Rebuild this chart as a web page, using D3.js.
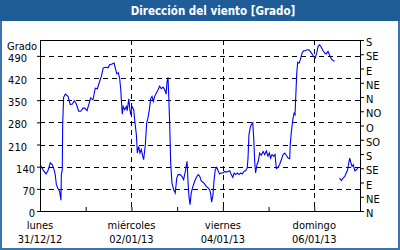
<!DOCTYPE html>
<html>
<head>
<meta charset="utf-8">
<script src="https://cdn.jsdelivr.net/npm/d3@7"></script>
<style>
  body { margin: 0; background: #fff; }
  svg { display: block; }
  text { font-family: "DejaVu Sans Condensed", "DejaVu Sans", sans-serif; }
</style>
</head>
<body>
<div id="chart"></div>
<script>
// hours since 31/12/12 00:00 and wind direction (degrees, unwrapped); null = gap
const hours = [0.4, 1.6, 3.2, 4.2, 5.4, 6.5, 7.4, 8.0, 8.6, 9.5, 10.3, 11.0, 11.2, 11.7, 11.9, 12.4, 13.3, 14.7, 15.9, 17.0,
  18.0, 19.1, 20.3, 21.4, 22.6, 23.5, 24.7, 25.6, 26.6, 27.8, 29.0, 30.1, 31.3, 32.2, 33.2, 34.7, 35.7, 36.6, 37.8, 38.9,
  39.5, 40.3, 41.1, 41.8, 42.4, 42.7, 43.2, 43.7, 44.5, 45.3, 45.8, 46.6, 47.1, 47.6, 48.3, 49.2, 49.7, 50.6, 51.1, 51.8,
  52.5, 53.2, 53.9, 54.4, 55.3, 56.0, 56.7, 57.4, 58.1, 58.8, 59.5, 60.2, 61.1, 62.0, 62.8, 63.7, 64.6, 65.5, 66.2, 66.7,
  67.2, 67.6, 68.1, 68.6, 69.3, 70.2, 71.0, 71.8, 72.5, 73.5, 74.6, 75.4, 76.3, 77.2, 77.7, 78.2, 78.8, 79.4, 80.3, 81.2,
  82.1, 83.0, 83.8, 84.7, 85.6, 86.5, 87.3, 88.2, 89.1, 89.6, 90.1, 90.8, 91.4, 92.0, 92.8, 93.5, 94.3, 95.2, 96.1, 97.0,
  97.8, 98.7, 99.6, 100.4, 101.2, 101.9, 102.7, 103.6, 104.5, 105.4, 106.2, 107.1, 108.0, 108.8, 109.2, 109.7, 110.4, 110.9, 111.7, 112.2,
  112.7, 113.2, 113.9, 114.6, 115.3, 116.2, 117.1, 118.0, 118.8, 119.7, 120.4, 121.1, 121.8, 122.7, 123.4, 124.1, 125.0, 125.8, 126.7, 127.6,
  128.5, 129.3, 130.2, 131.1, 131.4, 131.9, 132.5, 132.8, 133.4, 133.9, 134.2, 134.8, 135.3, 136.0, 136.7, 137.6, 138.4, 139.3, 140.2, 141.1,
  141.9, 142.8, 143.7, 144.5, 145.3, 146.0, 146.8, 147.7, 148.6, 149.5, 150.3, 151.2, 152.1, 152.9, 153.8, 154.7, 156.0, 157.3, 158.2, 159.1,
  160.0, 160.8, 161.5, 162.1, 162.6, 163.1, 163.8, 164.5, 165.3, 166.1, 166.9]
const grados = [143, 130, 117, 128, 152, 146, 130, 115, 83, 70, 62, 34, 115, 130, 272, 359, 369, 362, 336, 338,
  348, 338, 315, 315, 325, 325, 317, 336, 357, 351, 388, 386, 409, 425, 452, 454, 452, 462, 464, 467,
  452, 433, 437, 420, 383, 351, 306, 330, 320, 330, 317, 354, 325, 304, 330, 320, 288, 241, 183, 204,
  183, 194, 173, 162, 209, 278, 294, 320, 355, 362, 346, 362, 373, 383, 394, 386, 391, 383, 369, 409,
  422, 362, 272, 152, 88, 67, 57, 104, 115, 115, 109, 99, 125, 157, 94, 46, 20, 57, 78, 94,
  106, 115, 110, 94, 91, 85, 78, 73, 67, 54, 28, 51, 99, 130, 138, 127, 117, 120, 120, 125,
  123, 125, 127, 115, 106, 120, 115, 120, 115, 120, 117, 125, 128, 136, 167, 241, 264, 272, 278, 231,
  157, 120, 146, 157, 183, 176, 188, 178, 190, 173, 183, 167, 178, 173, 178, 134, 138, 147, 162, 178,
  183, 176, 167, 165, 212, 246, 278, 291, 309, 304, 351, 436, 470, 467, 478, 499, 506, 506, 509, 509,
  504, 496, 488, 483, 499, 520, 525, 517, 506, 499, 496, 504, 492, 481, 475, 473, null, 104, 96, 104,
  109, 120, 130, 152, 167, 155, 141, 146, 127, 130, 136]

const leftTicks = [0, 70, 140, 210, 280, 350, 420, 490]
const rightTicks = [0, 45, 90, 135, 180, 225, 270, 315, 360, 405, 450, 495, 540]
const rightLabels = ["N", "NE", "E", "SE", "S", "SO", "O", "NO", "N", "NE", "E", "SE", "S"]
const dayNames = ["lunes", "miércoles", "viernes", "domingo"]
const dayDates = ["31/12/12", "02/01/13", "04/01/13", "06/01/13"]

const W = 400, H = 250
const margin = {top: 40, left: 40, right: 40, bottom: 39}
const width = W - margin.left - margin.right,
  height = H - margin.top - margin.bottom

const start = new Date(2012, 11, 31)
const data = hours.map((h, i) => ({t: d3.timeMinute.offset(start, Math.round(h * 60)), v: grados[i]}))

const svg = d3.select("#chart").append("svg")
  .attr("width", W).attr("height", H)

// frame + title bar
svg.append("rect").attr("x", 1).attr("y", 1).attr("width", W - 2).attr("height", H - 2)
  .attr("fill", "#fff").attr("stroke", "#3a74ae").attr("stroke-width", 2)
svg.append("rect").attr("x", 0).attr("y", 0).attr("width", W).attr("height", 21)
  .attr("fill", "#1f5d99")
svg.append("text").attr("x", 213).attr("y", 14.5)
  .attr("text-anchor", "middle").attr("fill", "#fff")
  .style("font-size", "11.5px").style("font-weight", "bold")
  .text("Dirección del viento [Grado]")

const x = d3.scaleTime().domain([start, d3.timeDay.offset(start, 7)]).range([0, width])
const y = d3.scaleLinear().domain([0, 540]).range([height, 0])

const g = svg.append("g").attr("transform", "translate(" + margin.left + "," + margin.top + ")")

// horizontal grid
g.selectAll(".hgrid").data(leftTicks.filter(d => d > 0)).enter().append("line")
  .attr("x1", 0).attr("x2", width)
  .attr("y1", d => Math.round(y(d)) + 0.5).attr("y2", d => Math.round(y(d)) + 0.5)
  .attr("stroke", "#000").attr("stroke-dasharray", "5,4")

// vertical grid every two days
const majorDays = [0, 2, 4, 6].map(d => d3.timeDay.offset(start, d))
g.selectAll(".vgrid").data(majorDays.slice(1)).enter().append("line")
  .attr("x1", d => Math.round(x(d)) + 0.5).attr("x2", d => Math.round(x(d)) + 0.5)
  .attr("y1", 0).attr("y2", height)
  .attr("stroke", "#000").attr("stroke-dasharray", "5,4")

// left axis
const yAxis = g.append("g").call(d3.axisLeft(y).tickValues(leftTicks).tickSize(3).tickPadding(4))
yAxis.select(".domain").remove()
yAxis.selectAll("text")
  .attr("x", d => d >= 210 ? -13 : -5)
  .attr("dy", "0.5em")
  .style("font-size", "11px").attr("fill", "#000")

svg.append("text").attr("x", 7).attr("y", 50).style("font-size", "11px").text("Grado")

// right axis
const yAxisR = g.append("g").attr("transform", "translate(" + width + ",0)")
  .call(d3.axisRight(y).tickValues(rightTicks).tickSize(4).tickPadding(2)
    .tickFormat((d, i) => rightLabels[i]))
yAxisR.select(".domain").remove()
yAxisR.selectAll("text").attr("dy", "0.5em").style("font-size", "11px").attr("fill", "#000")

// bottom axis ticks (pointing up)
const xAxis = g.append("g").attr("transform", "translate(0," + height + ")")
  .call(d3.axisBottom(x).ticks(d3.timeDay.every(1)).tickSize(-4).tickFormat(""))
xAxis.select(".domain").remove()

const lab = g.selectAll(".xlab").data(majorDays).enter().append("g")
  .attr("transform", d => "translate(" + x(d) + "," + height + ")")
lab.append("text").attr("y", 18).attr("text-anchor", "middle").style("font-size", "11px")
  .text((d, i) => dayNames[i])
lab.append("text").attr("y", 32).attr("text-anchor", "middle").style("font-size", "11px")
  .text((d, i) => dayDates[i])

// plot frame
g.append("rect").attr("x", 0.5).attr("y", 0.5).attr("width", width).attr("height", height)
  .attr("fill", "none").attr("stroke", "#000")

// series
const line = d3.line()
  .defined(d => d.v !== null)
  .x(d => x(d.t))
  .y(d => y(d.v))

g.append("path").datum(data)
  .attr("d", line)
  .attr("fill", "none")
  .attr("stroke", "#0000ff")
  .attr("stroke-width", 1.1)
</script>
</body>
</html>
